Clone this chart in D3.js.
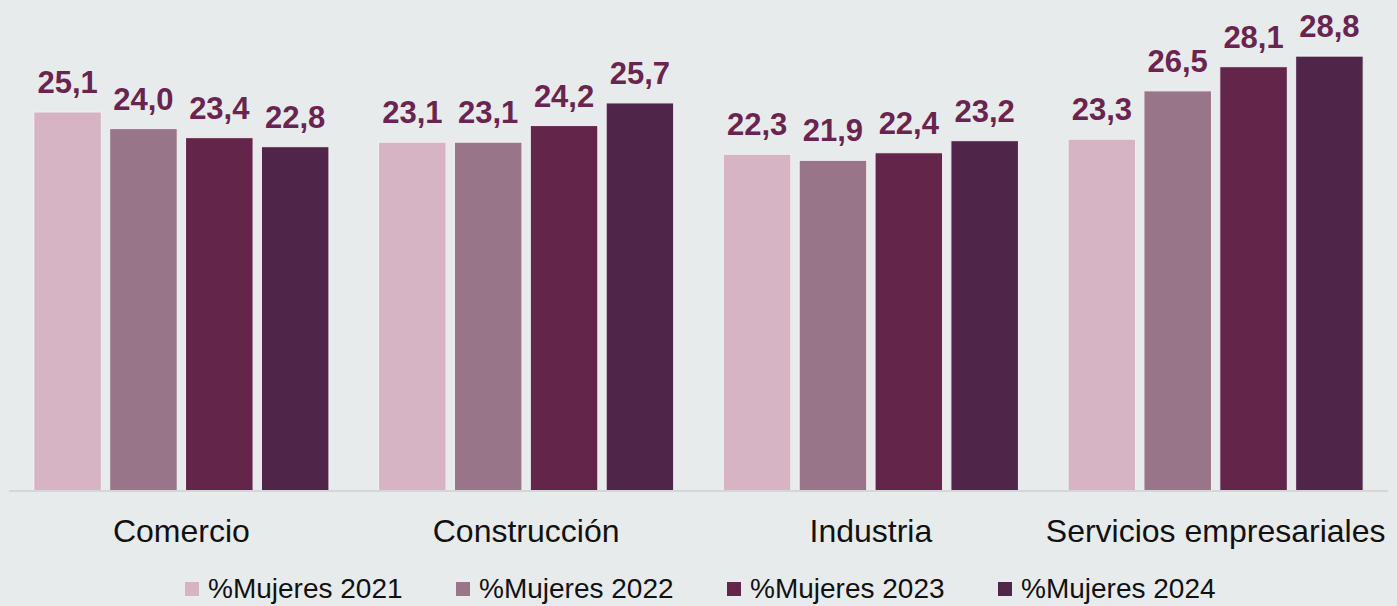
<!DOCTYPE html>
<meta charset="utf-8">
<style>
body { margin: 0; background: #e8ebec; }
svg { display: block; font-family: "Liberation Sans", Arial, sans-serif; }
.axis-line { stroke: #d6d6d8; stroke-width: 2; }
.value { font-weight: bold; fill: #69244f; font-size: 31px; text-anchor: middle; }
.cat { font-size: 32px; fill: #111; text-anchor: middle; }
.legend text { font-size: 28px; fill: #111; }
</style>
<svg width="1397" height="606"></svg>
<script src="https://cdn.jsdelivr.net/npm/d3@7"></script>
<script>

var categories = ["Comercio", "Construcción", "Industria", "Servicios empresariales"];
var series = ["%Mujeres 2021", "%Mujeres 2022", "%Mujeres 2023", "%Mujeres 2024"];
var v2021 = [25.1, 23.1, 22.3, 23.3];
var v2022 = [24.0, 23.1, 21.9, 26.5];
var v2023 = [23.4, 24.2, 22.4, 28.1];
var v2024 = [22.8, 25.7, 23.2, 28.8];
var colors = ["#d7b4c4", "#987588", "#632549", "#4f264a"];

var values = [v2021, v2022, v2023, v2024];

var svg = d3.select("svg");

var x0 = d3.scaleBand()
    .domain(categories)
    .range([9, 1388])
    .paddingInner(0.144)
    .paddingOuter(0.072);

var x1 = d3.scaleBand()
    .domain(series)
    .range([0, x0.bandwidth()])
    .paddingInner(0.11);

var y = d3.scaleLinear()
    .domain([0, 30])
    .range([491, 38]);

var color = d3.scaleOrdinal().domain(series).range(colors);

var rows = [];
categories.forEach(function(c, i) {
  series.forEach(function(s, j) {
    rows.push({cat: c, ser: s, value: values[j][i]});
  });
});

svg.append("g")
  .selectAll("rect")
    .data(rows)
  .enter().append("rect")
    .attr("x", function(d) { return x0(d.cat) + x1(d.ser); })
    .attr("y", function(d) { return y(d.value); })
    .attr("width", x1.bandwidth())
    .attr("height", function(d) { return y(0) - y(d.value); })
    .attr("fill", function(d) { return color(d.ser); })
    .attr("stroke", "#f3eef1")
    .attr("stroke-width", 1);

svg.append("g")
  .selectAll("text")
    .data(rows)
  .enter().append("text")
    .attr("class", "value")
    .attr("x", function(d) { return x0(d.cat) + x1(d.ser) + x1.bandwidth() / 2; })
    .attr("y", function(d) { return y(d.value) - 19; })
    .text(function(d) { return d3.format(".1f")(d.value).replace(".", ","); });

svg.append("line")
    .attr("class", "axis-line")
    .attr("x1", 9).attr("x2", 1388)
    .attr("y1", y(0)).attr("y2", y(0));

svg.append("g")
  .selectAll("text")
    .data(categories)
  .enter().append("text")
    .attr("class", "cat")
    .attr("x", function(d) { return x0(d) + x0.bandwidth() / 2; })
    .attr("y", 542)
    .text(function(d) { return d; });

var legend = svg.append("g").attr("class", "legend");
var item = legend.selectAll("g")
    .data(series)
  .enter().append("g")
    .attr("transform", function(d, i) { return "translate(" + (185 + i * 271) + ",0)"; });

item.append("rect")
    .attr("x", 0).attr("y", 582)
    .attr("width", 14).attr("height", 14)
    .attr("fill", function(d) { return color(d); });

item.append("text")
    .attr("x", 23).attr("y", 598)
    .text(function(d) { return d; });

</script>
